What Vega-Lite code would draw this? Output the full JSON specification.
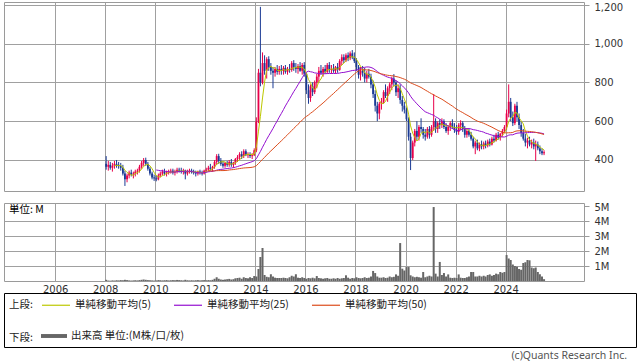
{
"$schema": "https://vega.github.io/schema/vega-lite/v6.json",
"padding": {"left": 3, "top": 1, "right": 0, "bottom": 0},
"background": "white",
"bounds": "flush",
"spacing": 12,
"config": {
  "view": {"stroke": "#9a9a9a"},
  "axis": {"domain": false, "gridColor": "#a0a0a0", "gridWidth": 1, "tickColor": "#9a9a9a", "labelFont": "DejaVu Sans", "labelFontSize": 10, "labelColor": "#333333"},
  "axisY": {"format": ",d"},
  "legend": {"labelFont": "Noto Sans CJK JP", "labelFontSize": 10.5, "labelColor": "#222222", "titleFont": "Noto Sans CJK JP", "titleFontSize": 10.5, "titleFontWeight": "normal", "titleColor": "#222222", "orient": "none", "direction": "horizontal", "titleOrient": "left", "titleAnchor": "start", "titleBaseline": "line-top", "titleLineHeight": 30, "padding": 0, "labelOffset": 4, "columnPadding": 20, "titlePadding": 8},
  "title": {"font": "Noto Sans CJK JP", "fontWeight": "normal"}
},
"datasets": {"px": [
{"t":"2008-01-15","o":380,"h":420,"l":350,"c":365,"v":0.08},
{"t":"2008-02-15","o":365,"h":395,"l":345,"c":375,"v":0.03},
{"t":"2008-03-15","o":375,"h":390,"l":350,"c":360,"v":0.02},
{"t":"2008-04-15","o":360,"h":385,"l":340,"c":370,"v":0.04},
{"t":"2008-05-15","o":370,"h":395,"l":355,"c":380,"v":0.03},
{"t":"2008-06-15","o":380,"h":400,"l":360,"c":375,"v":0.05},
{"t":"2008-07-15","o":375,"h":390,"l":355,"c":370,"v":0.04},
{"t":"2008-08-15","o":370,"h":385,"l":345,"c":360,"v":0.06},
{"t":"2008-09-15","o":360,"h":375,"l":320,"c":330,"v":0.05},
{"t":"2008-10-15","o":330,"h":345,"l":266,"c":300,"v":0.08},
{"t":"2008-11-15","o":300,"h":330,"l":285,"c":320,"v":0.06},
{"t":"2008-12-15","o":320,"h":345,"l":305,"c":335,"v":0.04},
{"t":"2009-01-15","o":335,"h":350,"l":315,"c":325,"v":0.03},
{"t":"2009-02-15","o":325,"h":340,"l":305,"c":330,"v":0.04},
{"t":"2009-03-15","o":330,"h":350,"l":315,"c":340,"v":0.05},
{"t":"2009-04-15","o":340,"h":355,"l":325,"c":345,"v":0.04},
{"t":"2009-05-15","o":345,"h":375,"l":335,"c":365,"v":0.06},
{"t":"2009-06-15","o":365,"h":395,"l":355,"c":385,"v":0.08},
{"t":"2009-07-15","o":385,"h":410,"l":370,"c":400,"v":0.1},
{"t":"2009-08-15","o":400,"h":412,"l":370,"c":380,"v":0.08},
{"t":"2009-09-15","o":380,"h":390,"l":345,"c":355,"v":0.06},
{"t":"2009-10-15","o":355,"h":365,"l":320,"c":330,"v":0.05},
{"t":"2009-11-15","o":330,"h":340,"l":300,"c":310,"v":0.04},
{"t":"2009-12-15","o":310,"h":325,"l":292,"c":305,"v":0.03},
{"t":"2010-01-15","o":305,"h":320,"l":290,"c":300,"v":0.04},
{"t":"2010-02-15","o":300,"h":330,"l":295,"c":320,"v":0.06},
{"t":"2010-03-15","o":320,"h":340,"l":310,"c":330,"v":0.05},
{"t":"2010-04-15","o":330,"h":350,"l":320,"c":340,"v":0.04},
{"t":"2010-05-15","o":340,"h":355,"l":320,"c":330,"v":0.05},
{"t":"2010-06-15","o":330,"h":345,"l":315,"c":335,"v":0.06},
{"t":"2010-07-15","o":335,"h":350,"l":325,"c":340,"v":0.04},
{"t":"2010-08-15","o":340,"h":355,"l":330,"c":345,"v":0.05},
{"t":"2010-09-15","o":345,"h":355,"l":325,"c":335,"v":0.06},
{"t":"2010-10-15","o":335,"h":350,"l":320,"c":340,"v":0.05},
{"t":"2010-11-15","o":340,"h":360,"l":330,"c":350,"v":0.07},
{"t":"2010-12-15","o":350,"h":360,"l":335,"c":345,"v":0.06},
{"t":"2011-01-15","o":345,"h":360,"l":330,"c":340,"v":0.05},
{"t":"2011-02-15","o":340,"h":355,"l":325,"c":345,"v":0.04},
{"t":"2011-03-15","o":345,"h":350,"l":300,"c":330,"v":0.08},
{"t":"2011-04-15","o":330,"h":350,"l":320,"c":340,"v":0.05},
{"t":"2011-05-15","o":340,"h":355,"l":330,"c":345,"v":0.04},
{"t":"2011-06-15","o":345,"h":355,"l":330,"c":340,"v":0.05},
{"t":"2011-07-15","o":340,"h":350,"l":325,"c":335,"v":0.04},
{"t":"2011-08-15","o":335,"h":345,"l":315,"c":330,"v":0.05},
{"t":"2011-09-15","o":330,"h":345,"l":320,"c":340,"v":0.06},
{"t":"2011-10-15","o":340,"h":350,"l":325,"c":335,"v":0.04},
{"t":"2011-11-15","o":335,"h":345,"l":320,"c":330,"v":0.05},
{"t":"2011-12-15","o":330,"h":350,"l":325,"c":345,"v":0.06},
{"t":"2012-01-15","o":345,"h":360,"l":335,"c":350,"v":0.05},
{"t":"2012-02-15","o":350,"h":370,"l":340,"c":360,"v":0.06},
{"t":"2012-03-15","o":360,"h":380,"l":345,"c":355,"v":0.05},
{"t":"2012-04-15","o":355,"h":370,"l":340,"c":365,"v":0.08},
{"t":"2012-05-15","o":365,"h":400,"l":355,"c":390,"v":0.15},
{"t":"2012-06-15","o":390,"h":430,"l":375,"c":420,"v":0.25},
{"t":"2012-07-15","o":420,"h":432,"l":380,"c":395,"v":0.15},
{"t":"2012-08-15","o":395,"h":410,"l":370,"c":380,"v":0.1},
{"t":"2012-09-15","o":380,"h":395,"l":360,"c":370,"v":0.08},
{"t":"2012-10-15","o":370,"h":390,"l":360,"c":385,"v":0.1},
{"t":"2012-11-15","o":385,"h":395,"l":365,"c":375,"v":0.12},
{"t":"2012-12-15","o":375,"h":400,"l":365,"c":390,"v":0.14},
{"t":"2013-01-15","o":390,"h":405,"l":365,"c":375,"v":0.1},
{"t":"2013-02-15","o":375,"h":390,"l":360,"c":385,"v":0.12},
{"t":"2013-03-15","o":385,"h":410,"l":375,"c":405,"v":0.18},
{"t":"2013-04-15","o":405,"h":425,"l":390,"c":415,"v":0.2},
{"t":"2013-05-15","o":415,"h":440,"l":400,"c":430,"v":0.22},
{"t":"2013-06-15","o":430,"h":445,"l":405,"c":420,"v":0.15},
{"t":"2013-07-15","o":420,"h":455,"l":410,"c":445,"v":0.25},
{"t":"2013-08-15","o":445,"h":455,"l":420,"c":425,"v":0.2},
{"t":"2013-09-15","o":425,"h":440,"l":410,"c":430,"v":0.18},
{"t":"2013-10-15","o":430,"h":440,"l":410,"c":420,"v":0.25},
{"t":"2013-11-15","o":420,"h":435,"l":405,"c":425,"v":0.2},
{"t":"2013-12-15","o":425,"h":460,"l":420,"c":450,"v":0.33},
{"t":"2014-01-15","o":450,"h":620,"l":440,"c":600,"v":0.3},
{"t":"2014-02-15","o":600,"h":870,"l":590,"c":850,"v":0.8},
{"t":"2014-03-15","o":850,"h":1190,"l":780,"c":800,"v":1.6},
{"t":"2014-04-15","o":800,"h":955,"l":790,"c":900,"v":2.2},
{"t":"2014-05-15","o":900,"h":940,"l":840,"c":860,"v":0.4},
{"t":"2014-06-15","o":860,"h":930,"l":820,"c":920,"v":0.28},
{"t":"2014-07-15","o":920,"h":935,"l":860,"c":880,"v":0.25},
{"t":"2014-08-15","o":880,"h":900,"l":840,"c":860,"v":0.45},
{"t":"2014-09-15","o":860,"h":880,"l":770,"c":850,"v":0.3},
{"t":"2014-10-15","o":850,"h":880,"l":830,"c":870,"v":0.22},
{"t":"2014-11-15","o":870,"h":890,"l":840,"c":855,"v":0.2},
{"t":"2014-12-15","o":855,"h":885,"l":840,"c":870,"v":0.2},
{"t":"2015-01-15","o":870,"h":890,"l":840,"c":860,"v":0.2},
{"t":"2015-02-15","o":860,"h":885,"l":840,"c":875,"v":0.22},
{"t":"2015-03-15","o":875,"h":890,"l":845,"c":855,"v":0.2},
{"t":"2015-04-15","o":855,"h":880,"l":840,"c":870,"v":0.18},
{"t":"2015-05-15","o":870,"h":895,"l":850,"c":865,"v":0.25},
{"t":"2015-06-15","o":865,"h":910,"l":855,"c":900,"v":0.35},
{"t":"2015-07-15","o":900,"h":915,"l":860,"c":880,"v":0.3},
{"t":"2015-08-15","o":880,"h":900,"l":850,"c":870,"v":0.45},
{"t":"2015-09-15","o":870,"h":895,"l":845,"c":885,"v":0.22},
{"t":"2015-10-15","o":885,"h":905,"l":855,"c":860,"v":0.2},
{"t":"2015-11-15","o":860,"h":900,"l":840,"c":890,"v":0.25},
{"t":"2015-12-15","o":890,"h":905,"l":830,"c":845,"v":0.2},
{"t":"2016-01-15","o":845,"h":850,"l":740,"c":760,"v":0.15},
{"t":"2016-02-15","o":760,"h":790,"l":690,"c":720,"v":0.2},
{"t":"2016-03-15","o":720,"h":790,"l":700,"c":780,"v":0.18},
{"t":"2016-04-15","o":780,"h":800,"l":730,"c":750,"v":0.22},
{"t":"2016-05-15","o":750,"h":810,"l":740,"c":800,"v":0.18},
{"t":"2016-06-15","o":800,"h":845,"l":770,"c":830,"v":0.33},
{"t":"2016-07-15","o":830,"h":880,"l":800,"c":860,"v":0.2},
{"t":"2016-08-15","o":860,"h":890,"l":840,"c":850,"v":0.18},
{"t":"2016-09-15","o":850,"h":880,"l":830,"c":870,"v":0.15},
{"t":"2016-10-15","o":870,"h":890,"l":845,"c":855,"v":0.18},
{"t":"2016-11-15","o":855,"h":900,"l":845,"c":890,"v":0.2},
{"t":"2016-12-15","o":890,"h":905,"l":850,"c":865,"v":0.15},
{"t":"2017-01-15","o":865,"h":890,"l":845,"c":870,"v":0.15},
{"t":"2017-02-15","o":870,"h":895,"l":850,"c":860,"v":0.18},
{"t":"2017-03-15","o":860,"h":885,"l":845,"c":880,"v":0.15},
{"t":"2017-04-15","o":880,"h":900,"l":850,"c":865,"v":0.2},
{"t":"2017-05-15","o":865,"h":920,"l":860,"c":910,"v":0.15},
{"t":"2017-06-15","o":910,"h":945,"l":890,"c":930,"v":0.18},
{"t":"2017-07-15","o":930,"h":945,"l":900,"c":915,"v":0.2},
{"t":"2017-08-15","o":915,"h":950,"l":905,"c":940,"v":0.38},
{"t":"2017-09-15","o":940,"h":955,"l":910,"c":925,"v":0.22},
{"t":"2017-10-15","o":925,"h":960,"l":915,"c":950,"v":0.15},
{"t":"2017-11-15","o":950,"h":967,"l":920,"c":930,"v":0.2},
{"t":"2017-12-15","o":930,"h":955,"l":900,"c":910,"v":0.18},
{"t":"2018-01-15","o":910,"h":925,"l":860,"c":880,"v":0.25},
{"t":"2018-02-15","o":880,"h":890,"l":820,"c":840,"v":0.2},
{"t":"2018-03-15","o":840,"h":880,"l":810,"c":860,"v":0.18},
{"t":"2018-04-15","o":860,"h":885,"l":830,"c":850,"v":0.2},
{"t":"2018-05-15","o":850,"h":875,"l":800,"c":820,"v":0.25},
{"t":"2018-06-15","o":820,"h":860,"l":800,"c":845,"v":0.2},
{"t":"2018-07-15","o":845,"h":870,"l":820,"c":830,"v":0.22},
{"t":"2018-08-15","o":830,"h":845,"l":770,"c":790,"v":0.3},
{"t":"2018-09-15","o":790,"h":810,"l":720,"c":740,"v":0.67},
{"t":"2018-10-15","o":740,"h":760,"l":650,"c":680,"v":0.53},
{"t":"2018-11-15","o":680,"h":700,"l":600,"c":640,"v":0.3},
{"t":"2018-12-15","o":640,"h":700,"l":610,"c":690,"v":0.22},
{"t":"2019-01-15","o":690,"h":720,"l":660,"c":700,"v":0.22},
{"t":"2019-02-15","o":700,"h":760,"l":690,"c":750,"v":0.25},
{"t":"2019-03-15","o":750,"h":790,"l":720,"c":730,"v":0.2},
{"t":"2019-04-15","o":730,"h":780,"l":700,"c":770,"v":0.22},
{"t":"2019-05-15","o":770,"h":800,"l":740,"c":790,"v":0.3},
{"t":"2019-06-15","o":790,"h":830,"l":760,"c":820,"v":0.25},
{"t":"2019-07-15","o":820,"h":843,"l":780,"c":800,"v":0.28},
{"t":"2019-08-15","o":800,"h":810,"l":730,"c":750,"v":0.44},
{"t":"2019-09-15","o":750,"h":790,"l":720,"c":770,"v":0.35},
{"t":"2019-10-15","o":770,"h":790,"l":690,"c":710,"v":2.53},
{"t":"2019-11-15","o":710,"h":730,"l":650,"c":680,"v":0.82},
{"t":"2019-12-15","o":680,"h":700,"l":640,"c":660,"v":0.7},
{"t":"2020-01-15","o":660,"h":670,"l":600,"c":610,"v":0.93},
{"t":"2020-02-15","o":610,"h":620,"l":500,"c":520,"v":0.93},
{"t":"2020-03-15","o":520,"h":540,"l":348,"c":410,"v":0.38},
{"t":"2020-04-15","o":410,"h":500,"l":400,"c":490,"v":0.3},
{"t":"2020-05-15","o":490,"h":560,"l":470,"c":550,"v":0.25},
{"t":"2020-06-15","o":550,"h":600,"l":500,"c":520,"v":0.28},
{"t":"2020-07-15","o":520,"h":580,"l":500,"c":570,"v":0.25},
{"t":"2020-08-15","o":570,"h":615,"l":540,"c":560,"v":0.22},
{"t":"2020-09-15","o":560,"h":570,"l":510,"c":530,"v":0.6},
{"t":"2020-10-15","o":530,"h":560,"l":500,"c":520,"v":0.25},
{"t":"2020-11-15","o":520,"h":570,"l":510,"c":560,"v":0.3},
{"t":"2020-12-15","o":560,"h":575,"l":510,"c":530,"v":0.35},
{"t":"2021-01-15","o":530,"h":580,"l":520,"c":570,"v":0.3},
{"t":"2021-02-15","o":570,"h":740,"l":550,"c":600,"v":4.93},
{"t":"2021-03-15","o":600,"h":615,"l":540,"c":560,"v":0.49},
{"t":"2021-04-15","o":560,"h":600,"l":540,"c":590,"v":0.3},
{"t":"2021-05-15","o":590,"h":610,"l":560,"c":580,"v":1.27},
{"t":"2021-06-15","o":580,"h":615,"l":565,"c":600,"v":0.4},
{"t":"2021-07-15","o":600,"h":610,"l":560,"c":570,"v":0.53},
{"t":"2021-08-15","o":570,"h":590,"l":540,"c":550,"v":0.3},
{"t":"2021-09-15","o":550,"h":580,"l":530,"c":570,"v":0.44},
{"t":"2021-10-15","o":570,"h":600,"l":550,"c":590,"v":0.22},
{"t":"2021-11-15","o":590,"h":610,"l":560,"c":570,"v":0.2},
{"t":"2021-12-15","o":570,"h":590,"l":540,"c":555,"v":0.22},
{"t":"2022-01-15","o":555,"h":580,"l":530,"c":545,"v":0.2},
{"t":"2022-02-15","o":545,"h":590,"l":530,"c":580,"v":0.44},
{"t":"2022-03-15","o":580,"h":605,"l":555,"c":590,"v":0.22},
{"t":"2022-04-15","o":590,"h":600,"l":545,"c":560,"v":0.2},
{"t":"2022-05-15","o":560,"h":575,"l":515,"c":530,"v":0.2},
{"t":"2022-06-15","o":530,"h":560,"l":515,"c":550,"v":0.25},
{"t":"2022-07-15","o":550,"h":560,"l":520,"c":530,"v":0.3},
{"t":"2022-08-15","o":530,"h":545,"l":500,"c":510,"v":0.6},
{"t":"2022-09-15","o":510,"h":520,"l":460,"c":470,"v":0.6},
{"t":"2022-10-15","o":470,"h":500,"l":430,"c":490,"v":0.3},
{"t":"2022-11-15","o":490,"h":505,"l":450,"c":460,"v":0.3},
{"t":"2022-12-15","o":460,"h":490,"l":445,"c":480,"v":0.35},
{"t":"2023-01-15","o":480,"h":500,"l":455,"c":470,"v":0.3},
{"t":"2023-02-15","o":470,"h":495,"l":455,"c":485,"v":0.35},
{"t":"2023-03-15","o":485,"h":500,"l":460,"c":475,"v":0.3},
{"t":"2023-04-15","o":475,"h":505,"l":465,"c":495,"v":0.4},
{"t":"2023-05-15","o":495,"h":510,"l":470,"c":480,"v":0.44},
{"t":"2023-06-15","o":480,"h":520,"l":475,"c":510,"v":0.35},
{"t":"2023-07-15","o":510,"h":530,"l":490,"c":500,"v":0.4},
{"t":"2023-08-15","o":500,"h":540,"l":495,"c":530,"v":0.49},
{"t":"2023-09-15","o":530,"h":545,"l":505,"c":515,"v":0.45},
{"t":"2023-10-15","o":515,"h":540,"l":500,"c":535,"v":0.6},
{"t":"2023-11-15","o":535,"h":560,"l":520,"c":550,"v":0.55},
{"t":"2023-12-15","o":550,"h":580,"l":540,"c":570,"v":0.6},
{"t":"2024-01-15","o":570,"h":660,"l":555,"c":640,"v":1.73},
{"t":"2024-02-15","o":640,"h":790,"l":620,"c":700,"v":1.5},
{"t":"2024-03-15","o":700,"h":720,"l":600,"c":620,"v":1.4},
{"t":"2024-04-15","o":620,"h":650,"l":575,"c":590,"v":1.1},
{"t":"2024-05-15","o":590,"h":690,"l":580,"c":680,"v":1.0},
{"t":"2024-06-15","o":680,"h":700,"l":600,"c":620,"v":0.95},
{"t":"2024-07-15","o":620,"h":640,"l":560,"c":580,"v":0.8},
{"t":"2024-08-15","o":580,"h":600,"l":520,"c":540,"v":0.75},
{"t":"2024-09-15","o":540,"h":560,"l":500,"c":510,"v":1.2},
{"t":"2024-10-15","o":510,"h":535,"l":470,"c":490,"v":1.25},
{"t":"2024-11-15","o":490,"h":515,"l":460,"c":500,"v":1.4},
{"t":"2024-12-15","o":500,"h":520,"l":470,"c":480,"v":1.38},
{"t":"2025-01-15","o":480,"h":505,"l":460,"c":490,"v":0.9},
{"t":"2025-02-15","o":490,"h":510,"l":455,"c":470,"v":0.85},
{"t":"2025-03-15","o":470,"h":500,"l":395,"c":480,"v":0.9},
{"t":"2025-04-15","o":480,"h":495,"l":450,"c":460,"v":0.6},
{"t":"2025-05-15","o":460,"h":475,"l":430,"c":445,"v":0.45},
{"t":"2025-06-15","o":445,"h":460,"l":425,"c":435,"v":0.3},
{"t":"2025-07-15","o":435,"h":450,"l":425,"c":440,"v":0.12}
]},
"vconcat": [
{
  "width": 580, "height": 189,
  "data": {"name": "px"},
  "encoding": {
    "x": {"field": "t", "type": "temporal",
      "scale": {"type": "utc", "domain": [{"year":2004,"month":2,"date":27,"utc":true},{"year":2026,"month":12,"date":7,"utc":true}]},
      "axis": {"values": [{"year":2006,"utc":true},{"year":2008,"utc":true},{"year":2010,"utc":true},{"year":2012,"utc":true},{"year":2014,"utc":true},{"year":2016,"utc":true},{"year":2018,"utc":true},{"year":2020,"utc":true},{"year":2022,"utc":true},{"year":2024,"utc":true}], "labels": false, "ticks": false, "grid": true, "title": null}}
  },
  "layer": [
    {"mark": {"type": "rule", "strokeWidth": 1},
     "encoding": {
       "y": {"field": "l", "type": "quantitative", "scale": {"domain": [240, 1215], "nice": false, "zero": false},
         "axis": {"orient": "right", "values": [400, 600, 800, 1000, 1200], "format": ",d", "grid": true, "tickSize": 5, "labelPadding": 5, "title": null,
           "labelOffset": {"condition": {"test": "datum.value == 1200", "value": 3}, "value": 0}}},
       "y2": {"field": "h"},
       "color": {"condition": {"test": "datum.c >= datum.o", "value": "#e8004a"}, "value": "#1a3a94"}
     }},
    {"mark": {"type": "bar", "width": 1.8},
     "encoding": {
       "y": {"field": "o", "type": "quantitative", "scale": {"domain": [240, 1215], "nice": false, "zero": false},
         "axis": {"orient": "right", "values": [400, 600, 800, 1000, 1200], "format": ",d", "grid": true, "tickSize": 5, "labelPadding": 5, "title": null,
           "labelOffset": {"condition": {"test": "datum.value == 1200", "value": 3}, "value": 0}}},
       "y2": {"field": "c"},
       "color": {"condition": {"test": "datum.c >= datum.o", "value": "#e8004a"}, "value": "#1a3a94"}
     }},
    {"transform": [{"window": [{"op": "mean", "field": "c", "as": "ma"}, {"op": "count", "as": "n"}], "frame": [-4, 0], "sort": [{"field": "t"}]}, {"filter": "datum.n >= 5"}],
     "mark": {"type": "line", "strokeWidth": 1},
     "encoding": {
       "y": {"field": "ma", "type": "quantitative", "scale": {"domain": [240, 1215], "nice": false, "zero": false},
         "axis": {"orient": "right", "values": [400, 600, 800, 1000, 1200], "format": ",d", "grid": true, "tickSize": 5, "labelPadding": 5, "title": null,
           "labelOffset": {"condition": {"test": "datum.value == 1200", "value": 3}, "value": 0}}},
       "stroke": {"datum": "単純移動平均(5)", "type": "nominal",
         "scale": {"domain": ["単純移動平均(5)", "単純移動平均(25)", "単純移動平均(50)"], "range": ["#bcc800", "#9410d0", "#dc4c1c"]},
         "legend": {"title": "上段:", "legendX": 5, "legendY": 288, "symbolType": "stroke", "symbolSize": 784, "symbolStrokeWidth": 1.2}}
     }},
    {"transform": [{"window": [{"op": "mean", "field": "c", "as": "ma"}, {"op": "count", "as": "n"}], "frame": [-24, 0], "sort": [{"field": "t"}]}, {"filter": "datum.n >= 25"}],
     "mark": {"type": "line", "strokeWidth": 1},
     "encoding": {
       "y": {"field": "ma", "type": "quantitative", "scale": {"domain": [240, 1215], "nice": false, "zero": false},
         "axis": {"orient": "right", "values": [400, 600, 800, 1000, 1200], "format": ",d", "grid": true, "tickSize": 5, "labelPadding": 5, "title": null,
           "labelOffset": {"condition": {"test": "datum.value == 1200", "value": 3}, "value": 0}}},
       "stroke": {"datum": "単純移動平均(25)", "type": "nominal"}
     }},
    {"transform": [{"window": [{"op": "mean", "field": "c", "as": "ma"}, {"op": "count", "as": "n"}], "frame": [-49, 0], "sort": [{"field": "t"}]}, {"filter": "datum.n >= 50"}],
     "mark": {"type": "line", "strokeWidth": 1},
     "encoding": {
       "y": {"field": "ma", "type": "quantitative", "scale": {"domain": [240, 1215], "nice": false, "zero": false},
         "axis": {"orient": "right", "values": [400, 600, 800, 1000, 1200], "format": ",d", "grid": true, "tickSize": 5, "labelPadding": 5, "title": null,
           "labelOffset": {"condition": {"test": "datum.value == 1200", "value": 3}, "value": 0}}},
       "stroke": {"datum": "単純移動平均(50)", "type": "nominal"}
     }}
  ]
},
{
  "width": 580, "height": 78,
  "data": {"name": "px"},
  "title": {"text": "単位: M", "anchor": "start", "offset": -13, "dx": 5, "fontSize": 10.5, "color": "#000000", "font": "Noto Sans CJK JP", "fontWeight": "normal"},
  "mark": {"type": "bar", "width": 2},
  "encoding": {
    "x": {"field": "t", "type": "temporal",
      "scale": {"type": "utc", "domain": [{"year":2004,"month":2,"date":27,"utc":true},{"year":2026,"month":12,"date":7,"utc":true}]},
      "axis": {"values": [{"year":2006,"utc":true},{"year":2008,"utc":true},{"year":2010,"utc":true},{"year":2012,"utc":true},{"year":2014,"utc":true},{"year":2016,"utc":true},{"year":2018,"utc":true},{"year":2020,"utc":true},{"year":2022,"utc":true},{"year":2024,"utc":true}], "format": "%Y", "formatType": "utc", "labelPadding": 3, "ticks": false, "grid": true, "title": null}},
    "y": {"field": "v", "type": "quantitative", "scale": {"domain": [0, 5.2], "nice": false},
      "axis": {"orient": "right", "values": [1, 2, 3, 4, 5], "labelExpr": "datum.value + 'M'", "tickSize": 5, "labelPadding": 5, "title": null, "grid": true,
        "gridOpacity": {"condition": {"test": "datum.value == 5", "value": 0}, "value": 1},
        "labelOffset": {"condition": {"test": "datum.value == 5", "value": 1}, "value": 0}}},
    "fill": {"datum": "出来高 単位:(M株/口/枚)", "type": "nominal", "scale": {"range": ["#666666"]},
      "legend": {"title": "下段:", "legendX": 5, "legendY": 321, "symbolType": "M-1,-0.15H1V0.15H-1Z", "symbolSize": 676, "symbolStrokeWidth": 0}}
  }
},
{
  "width": 632, "height": 54,
  "view": {"stroke": "#000000", "strokeWidth": 1},
  "data": {"values": []},
  "mark": {"type": "text"},
  "encoding": {},
  "title": {"text": "(c)Quants Research Inc.", "orient": "bottom", "anchor": "end", "offset": 4, "dx": -9, "fontSize": 10.5, "color": "#555555", "font": "Noto Sans", "fontWeight": "normal"}
}
]
}
